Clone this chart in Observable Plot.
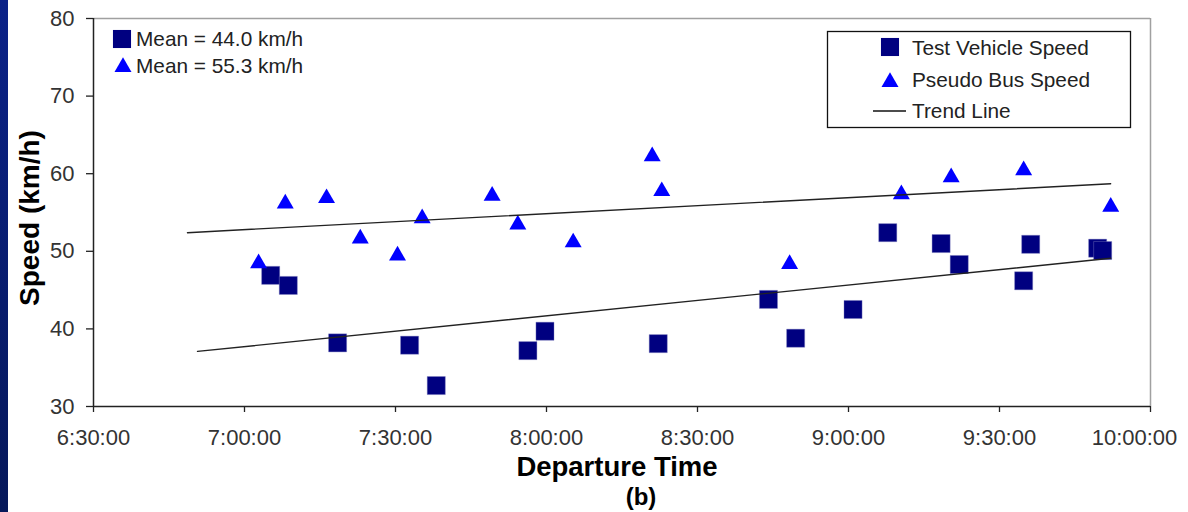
<!DOCTYPE html>
<html><head><meta charset="utf-8">
<script src="https://cdn.jsdelivr.net/npm/d3@7"></script>
<script src="https://cdn.jsdelivr.net/npm/@observablehq/plot@0.6"></script>
<style>
body{margin:0;background:#fff;}
#wrap{position:relative;width:1188px;height:512px;overflow:hidden;background:#fff;}
#border{position:absolute;left:0;top:0;width:8px;height:512px;background:linear-gradient(#0b2288,#06185a);}
#chart svg{display:block;}
</style></head>
<body><div id="wrap"><div id="chart"></div><div id="border"></div></div>
<script>
// ---- data ----
const testTimes = ["7:05:12","7:08:42","7:18:30","7:32:48","7:38:06","7:56:18","7:59:42","8:22:12","8:44:06","8:49:30","9:00:54","9:07:48","9:18:24","9:22:00","9:34:48","9:36:12","9:49:30","9:50:30"];
const testSpeeds = [46.9,45.6,38.2,37.9,32.7,37.2,39.7,38.1,43.8,38.8,42.5,52.4,51.0,48.3,46.2,50.9,50.4,50.1];
const busTimes = ["7:02:48","7:08:06","7:16:18","7:23:00","7:30:24","7:35:18","7:49:12","7:54:18","8:05:18","8:21:00","8:22:54","8:48:18","9:10:30","9:20:24","9:34:48","9:52:06"];
const busSpeeds = [48.7,56.4,57.1,51.9,49.7,54.5,57.4,53.7,51.4,62.5,58.0,48.6,57.6,59.8,60.7,56.0];
const trendTestTimes = ["6:50:40","9:52:05"];
const trendTestSpeeds = [37.1,49.1];
const trendBusTimes = ["6:48:40","9:52:05"];
const trendBusSpeeds = [52.4,58.7];
const xTickLabels = ["6:30:00","7:00:00","7:30:00","8:00:00","8:30:00","9:00:00","9:30:00","10:00:00"];
const yTicks = [30,40,50,60,70,80];
const seriesNames = ["Test Vehicle Speed","Pseudo Bus Speed","Trend Line"];
const meanLabels = ["Mean = 44.0 km/h","Mean = 55.3 km/h"];
const xTitle = "Departure Time";
const yTitle = "Speed (km/h)";
const subLabel = "(b)";

// ---- build ----
const parse = d3.utcParse("%H:%M:%S");
const fmt = d3.utcFormat("%-H:%M:%S");
const test = testTimes.map((t,i)=>({t:parse(t), v:testSpeeds[i]}));
const bus = busTimes.map((t,i)=>({t:parse(t), v:busSpeeds[i]}));
const trTest = trendTestTimes.map((t,i)=>({t:parse(t), v:trendTestSpeeds[i]}));
const trBus = trendBusTimes.map((t,i)=>({t:parse(t), v:trendBusSpeeds[i]}));
const xTicks = xTickLabels.map(parse);
const FONT = "'Liberation Sans', Arial, sans-serif";
const NAVY = "#000080", BLUE = "#0000ff";

const chart = Plot.plot({
  width: 1188, height: 512,
  marginLeft: 93, marginRight: 38, marginTop: 18, marginBottom: 106,
  style: {fontFamily: FONT, fontSize: "22px", color: "#2a2a2a", background: "transparent"},
  x: {type: "utc", domain: [xTicks[0], xTicks[xTicks.length-1]]},
  y: {domain: [30, 80]},
  marks: [
    Plot.ruleY([80], {stroke: "#a0a0a0", strokeWidth: 1.5}),
    Plot.ruleX([xTicks[xTicks.length-1]], {stroke: "#a0a0a0", strokeWidth: 1.5}),
    Plot.axisY({ticks: yTicks, tickSize: 7, tickPadding: 12, label: null, stroke: "#222", strokeWidth: 1.3, fill: "#333"}),
    Plot.axisX({ticks: xTicks, tickFormat: fmt, tickSize: 6, tickPadding: 17, label: null, stroke: "#222", strokeWidth: 1.3, fill: "#333"}),
    Plot.ruleX([xTicks[0]], {stroke: "#222", strokeWidth: 1.5}),
    Plot.ruleY([30], {stroke: "#222", strokeWidth: 1.5}),
    Plot.dot(test, {x: "t", y: "v", symbol: "square", r: 10.2, fill: NAVY, stroke: "#8080c0", strokeWidth: 0.4}),
    Plot.dot(bus, {x: "t", y: "v", symbol: "triangle", r: 6.3, fill: BLUE, dy: 2}),
    Plot.line(trTest, {x: "t", y: "v", stroke: "#222", strokeWidth: 1.4}),
    Plot.line(trBus, {x: "t", y: "v", stroke: "#222", strokeWidth: 1.4})
  ]
});
document.getElementById("chart").append(chart);

// keep last x tick label inside the page, as in the reference
const xLabels = chart.querySelectorAll('g[aria-label="x-axis tick label"] text');
if (xLabels.length) xLabels[xLabels.length-1].setAttribute("dx", "-16");

// ---- annotations ----
const svg = d3.select(chart);
const g = svg.append("g").attr("font-family", FONT).attr("fill", "#222").attr("text-anchor", "start");
const sq = d3.symbol(d3.symbolSquare, Math.PI*10.2*10.2)();
const tri = d3.symbol(d3.symbolTriangle, Math.PI*6.3*6.3)();
const LF = "20.8px";

// mean labels
g.append("path").attr("d", sq).attr("transform", "translate(122,39)").attr("fill", NAVY);
g.append("text").attr("x", 136).attr("y", 46).attr("font-size", LF).text(meanLabels[0]);
g.append("path").attr("d", tri).attr("transform", "translate(123,67)").attr("fill", BLUE);
g.append("text").attr("x", 136).attr("y", 73).attr("font-size", LF).text(meanLabels[1]);

// legend
g.append("rect").attr("x", 827.5).attr("y", 31.5).attr("width", 303).attr("height", 96)
  .attr("fill", "#fff").attr("stroke", "#111").attr("stroke-width", 1.3);
g.append("path").attr("d", sq).attr("transform", "translate(890,47)").attr("fill", NAVY);
g.append("text").attr("x", 912).attr("y", 55).attr("font-size", LF).text(seriesNames[0]);
g.append("path").attr("d", tri).attr("transform", "translate(890,82)").attr("fill", BLUE);
g.append("text").attr("x", 912).attr("y", 87).attr("font-size", LF).text(seriesNames[1]);
g.append("line").attr("x1", 873).attr("x2", 906).attr("y1", 111).attr("y2", 111).attr("stroke", "#111").attr("stroke-width", 1.4);
g.append("text").attr("x", 912).attr("y", 118).attr("font-size", LF).text(seriesNames[2]);

// titles
g.append("text").attr("x", 617).attr("y", 476).attr("text-anchor", "middle")
  .attr("font-size", "27.5px").attr("font-weight", "bold").attr("fill", "#000").text(xTitle);
g.append("text").attr("x", 641).attr("y", 505).attr("text-anchor", "middle")
  .attr("font-size", "24px").attr("font-weight", "bold").attr("fill", "#000").text(subLabel);
g.append("text").attr("transform", "translate(39,218) rotate(-90)").attr("text-anchor", "middle")
  .attr("font-size", "28px").attr("font-weight", "bold").attr("fill", "#000").text(yTitle);
</script>
</body></html>
